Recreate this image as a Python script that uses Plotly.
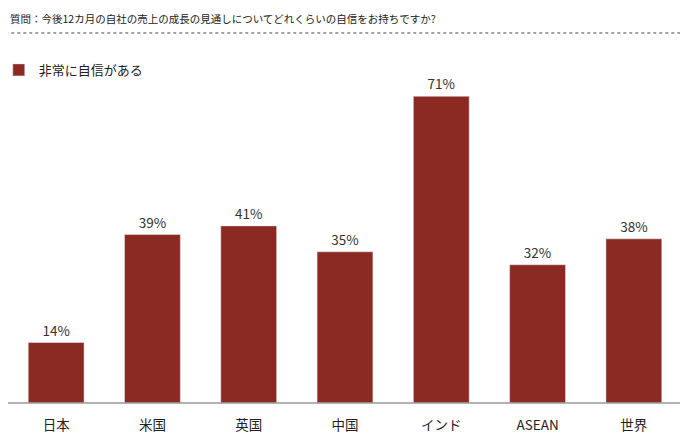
import plotly.graph_objects as go

categories = ["日本", "米国", "英国", "中国", "インド", "ASEAN", "世界"]
values = [14, 39, 41, 35, 71, 32, 38]
series_name = "非常に自信がある"
question = "質問：今後12カ月の自社の売上の成長の見通しについてどれくらいの自信をお持ちですか?"

BAR_COLOR = "#8a2a22"
FONT = "Noto Sans CJK JP, sans-serif"

fig = go.Figure()
fig.add_trace(
    go.Bar(
        x=categories,
        y=values,
        name=series_name,
        marker={"color": BAR_COLOR},
        text=[f"{v}%" for v in values],
        textposition="outside",
        textfont={"size": 13.5, "color": "#333333"},
        cliponaxis=False,
        showlegend=True,
    )
)

# page body has an 8px margin, so the figure is laid out from (8, 8)
fig.update_layout(
    width=688,
    height=439,
    paper_bgcolor="white",
    plot_bgcolor="white",
    font={"family": FONT, "size": 13, "color": "#222222"},
    margin={"l": 0, "r": 14, "t": 71, "b": 44, "autoexpand": False},
    bargap=0.42,
    legend={
        "x": -0.0137,
        "y": 1.028,
        "xanchor": "left",
        "yanchor": "middle",
        "font": {"size": 13, "color": "#222222"},
        "bgcolor": "rgba(0,0,0,0)",
        "itemwidth": 30,
    },
    annotations=[
        {
            "text": question,
            "xref": "paper",
            "yref": "paper",
            "x": 0.0,
            "y": 1.216,
            "xanchor": "left",
            "yanchor": "top",
            "showarrow": False,
            "font": {"size": 10.5, "color": "#222222"},
        }
    ],
    shapes=[
        {
            "type": "line",
            "xref": "paper",
            "yref": "paper",
            "x0": -0.004,
            "x1": 1.0045,
            "y0": 1.142,
            "y1": 1.142,
            "line": {"color": "#444444", "width": 1, "dash": "dot"},
        },
        {
            "type": "line",
            "xref": "paper",
            "yref": "paper",
            "x0": -0.004,
            "x1": 1.0015,
            "y0": 0,
            "y1": 0,
            "line": {"color": "#999999", "width": 1.5},
        },
    ],
)

fig.update_xaxes(
    showline=False,
    showgrid=False,
    ticks="",
    ticklabelstandoff=12,
    tickfont={"size": 13.5, "color": "#222222"},
)
fig.update_yaxes(
    range=[0, 75],
    visible=False,
    showgrid=False,
    zeroline=False,
)

fig.write_html("out.html")
